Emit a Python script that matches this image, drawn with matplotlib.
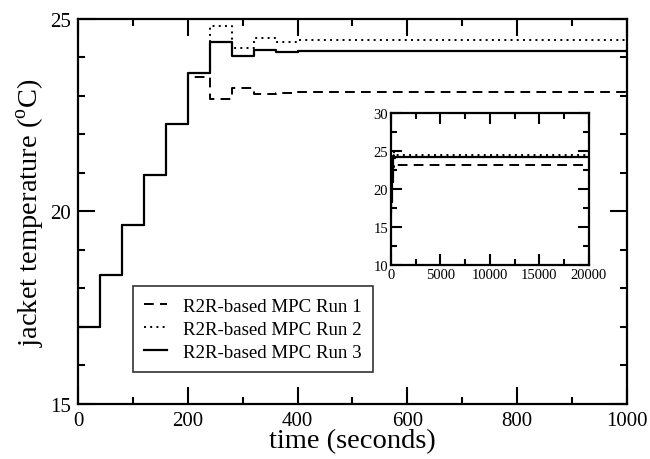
import numpy as np
import matplotlib
matplotlib.use("Agg")
import matplotlib.pyplot as plt
from matplotlib.ticker import MultipleLocator

plt.rcParams['font.family'] = ['Liberation Serif', 'DejaVu Serif']
plt.rcParams['mathtext.fontset'] = 'custom'
plt.rcParams['mathtext.rm'] = 'Liberation Serif'

# step start times (seconds) and held values
t = [0, 40, 80, 120, 160, 200, 240, 280, 320, 360, 400, 1000]
run1 = [17.0, 18.35, 19.65, 20.95, 22.27, 23.49, 22.93, 23.2, 23.05, 23.09, 23.1, 23.1]
run2 = [17.0, 18.35, 19.65, 20.95, 22.27, 23.6, 24.83, 24.25, 24.5, 24.41, 24.45, 24.45]
run3 = [17.0, 18.35, 19.65, 20.95, 22.27, 23.6, 24.41, 24.03, 24.2, 24.13, 24.17, 24.17]
labels = ['R2R-based MPC Run 1', 'R2R-based MPC Run 2', 'R2R-based MPC Run 3']
t_long_end = 20000

fig = plt.figure(figsize=(6.5, 4.6), dpi=100)
ax = fig.add_axes([0.12, 0.1196, 0.8446, 0.8370])

styles = [dict(ls=(0, (5, 3.2)), lw=1.4), dict(ls=(0, (1, 2.2)), lw=1.4), dict(ls='-', lw=1.6)]
for y, lab, st in zip([run1, run2, run3], labels, styles):
    ax.step(t, y, where='post', color='black', label=lab, **st)

ax.set_xlim(0, 1000)
ax.set_ylim(15, 25)
ax.xaxis.set_major_locator(MultipleLocator(200))
ax.xaxis.set_minor_locator(MultipleLocator(100))
ax.yaxis.set_major_locator(MultipleLocator(5))
ax.yaxis.set_minor_locator(MultipleLocator(1))
ax.tick_params(which='both', direction='in', top=True, right=True, width=1.5,
               labelsize=15, pad=5)
ax.tick_params(which='major', length=12)
ax.tick_params(which='minor', length=5)
for s in ax.spines.values():
    s.set_linewidth(1.6)
ax.set_xlabel('time (seconds)', fontsize=20.5, labelpad=-1)
ax.set_ylabel('jacket temperature ($^{\\mathrm{o}}$C)', fontsize=20.5, labelpad=2)

leg = ax.legend(loc='lower left', bbox_to_anchor=(0.1, 0.083), borderaxespad=0,
                fontsize=13.6, frameon=True, fancybox=False, edgecolor='black',
                handlelength=1.2, borderpad=0.6, labelspacing=0.3,
                handletextpad=0.85)
leg.get_frame().set_linewidth(1.2)

# inset
axi = fig.add_axes([0.6015, 0.4217, 0.3046, 0.3304])
for y, st in zip([run1, run2, run3], styles):
    ti = t[:-1] + [t_long_end]
    axi.step(ti, y, where='post', color='black', **st)
axi.set_xlim(0, 20000)
axi.set_ylim(10, 30)
axi.xaxis.set_major_locator(MultipleLocator(5000))
axi.xaxis.set_minor_locator(MultipleLocator(2500))
axi.yaxis.set_major_locator(MultipleLocator(5))
axi.yaxis.set_minor_locator(MultipleLocator(2.5))
axi.tick_params(which='both', direction='in', top=True, right=True, width=1.5,
                labelsize=10.5, pad=2)
axi.tick_params(which='major', length=8)
axi.tick_params(which='minor', length=4)
for s in axi.spines.values():
    s.set_linewidth(1.6)

fig.savefig('out.png', dpi=100)
